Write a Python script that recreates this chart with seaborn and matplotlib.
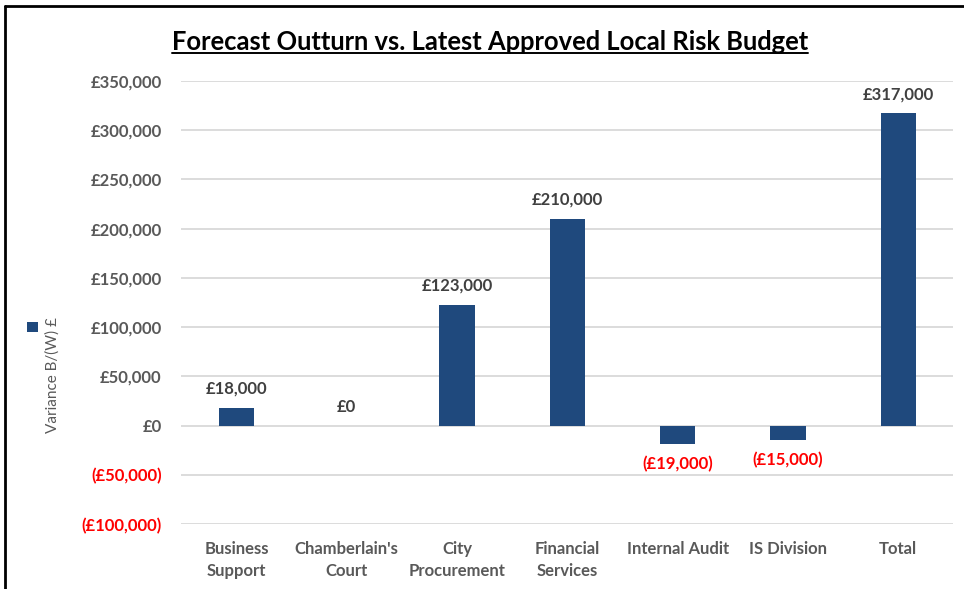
import pandas as pd
import matplotlib.pyplot as plt
import seaborn as sns
from matplotlib.lines import Line2D
from matplotlib.patches import Rectangle

# Data
categories = ["Business\nSupport", "Chamberlain's\nCourt", "City\nProcurement",
              "Financial\nServices", "Internal Audit", "IS Division", "Total"]
variance = [18000, 0, 123000, 210000, -19000, -15000, 317000]
y_ticks = [-100000, -50000, 0, 50000, 100000, 150000, 200000, 250000, 300000, 350000]

title = "Forecast Outturn vs. Latest Approved Local Risk Budget"
series_name = "Variance B/(W) £"

bar_color = "#1F497D"
text_grey = "#595959"
label_grey = "#404040"
neg_red = "#FF0000"


def gbp(v):
    if v < 0:
        return f"(£{-v:,.0f})"
    return f"£{v:,.0f}"


df = pd.DataFrame({"Area": categories, "Variance": variance})

sns.set_theme(style="white")
plt.rcParams['font.family'] = ['Lato', 'DejaVu Sans']

fig = plt.figure(figsize=(9.64, 5.89), dpi=100)
ax = fig.add_axes([0.188, 0.110, 0.801, 0.7525])

sns.barplot(data=df, x="Area", y="Variance", color=bar_color, saturation=1,
            width=0.32, linewidth=0, ax=ax)

ax.set_xlim(-0.5, len(categories) - 0.5)
ax.set_ylim(y_ticks[0], y_ticks[-1])
ax.set_yticks(y_ticks)
ax.set_yticklabels([gbp(t) for t in y_ticks])
ax.set_xlabel("")
ax.set_ylabel("")

for lab, t in zip(ax.get_yticklabels(), y_ticks):
    lab.set_color(neg_red if t < 0 else text_grey)
    lab.set_fontweight("bold")
    lab.set_fontsize(12)
for lab in ax.get_xticklabels():
    lab.set_color(text_grey)
    lab.set_fontweight("bold")
    lab.set_fontsize(12)
    lab.set_linespacing(1.45)

ax.tick_params(axis="y", length=0, pad=14)
ax.tick_params(axis="x", length=0, pad=12)
for s in ax.spines.values():
    s.set_visible(False)
ax.yaxis.grid(True, color="#D9D9D9", linewidth=1.3)
ax.xaxis.grid(False)
ax.set_axisbelow(True)

# data labels
for i, v in enumerate(variance):
    if v >= 0:
        ax.annotate(gbp(v), (i, v), xytext=(0, 8), textcoords="offset points",
                    ha="center", va="bottom", fontsize=12, fontweight="bold",
                    color=label_grey)
    else:
        ax.annotate(gbp(v), (i, v), xytext=(0, -8), textcoords="offset points",
                    ha="center", va="top", fontsize=12, fontweight="bold",
                    color=neg_red)

# title with underline
t = fig.text(0.508, 0.928, title, ha="center", va="center", fontsize=18.4,
             fontweight="bold", color="black")
fig.canvas.draw()
bb = t.get_window_extent().transformed(fig.transFigure.inverted())
fig.add_artist(Line2D([bb.x0, bb.x1], [bb.y0 + 0.002, bb.y0 + 0.002],
                      transform=fig.transFigure, color="black", linewidth=1.4))

# legend: marker above a rotated series name
fig.add_artist(Rectangle((0.0285, 0.437), 0.0105, 0.017, transform=fig.transFigure,
                         facecolor=bar_color, edgecolor="none"))
fig.text(0.054, 0.363, series_name, rotation=90, ha="center", va="center",
         fontsize=11, color=text_grey)

# chart frame (top and left edges visible)
fig.add_artist(Line2D([0.005, 1.0], [0.990, 0.990], transform=fig.transFigure,
                      color="black", linewidth=2))
fig.add_artist(Line2D([0.005, 0.005], [0.0, 0.990], transform=fig.transFigure,
                      color="black", linewidth=2))

fig.savefig("out.png", dpi=100, facecolor="white")
